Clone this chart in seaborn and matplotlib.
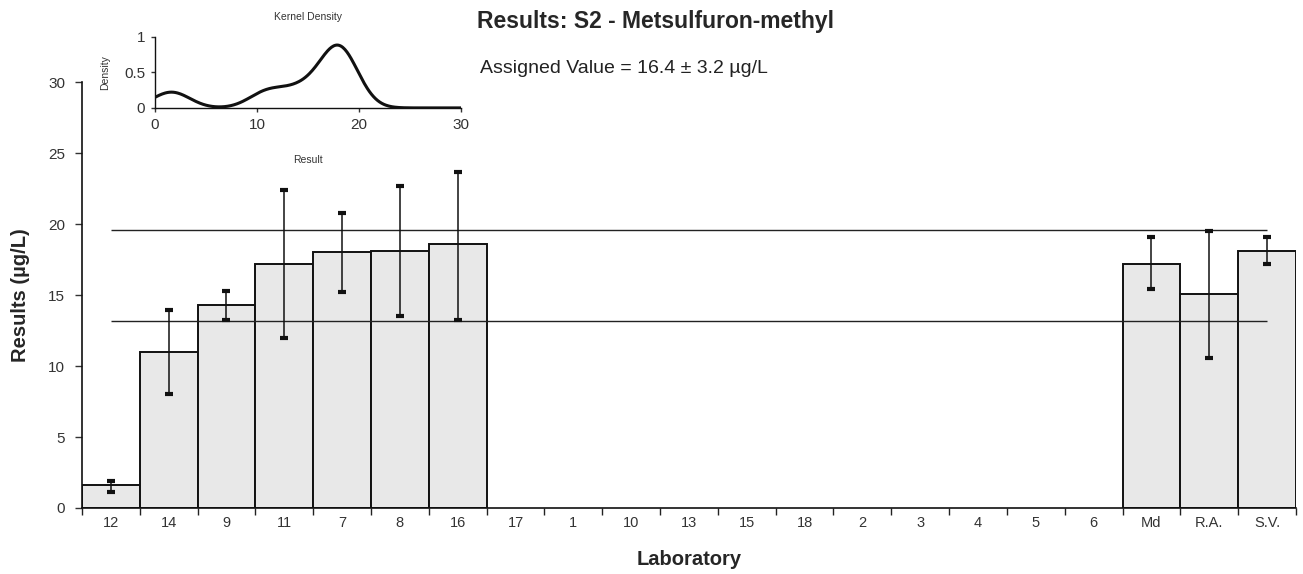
import numpy as np
import pandas as pd
import matplotlib
matplotlib.use("Agg")
import matplotlib.pyplot as plt
import seaborn as sns

# Laboratory order along the x axis
categories = ["12", "14", "9", "11", "7", "8", "16", "17", "1", "10", "13",
              "15", "18", "2", "3", "4", "5", "6", "Md", "R.A.", "S.V."]

# Reported results (µg/L) and their expanded uncertainties
result_labs = ["12", "14", "9", "11", "7", "8", "16", "Md", "R.A.", "S.V."]
result_values = [1.6, 11.0, 14.3, 17.2, 18.0, 18.1, 18.6, 17.2, 15.05, 18.1]
result_upper = [1.9, 13.95, 15.3, 22.4, 20.75, 22.7, 23.7, 19.1, 19.5, 19.1]
result_lower = [1.1, 8.0, 13.25, 12.0, 15.2, 13.5, 13.25, 15.4, 10.6, 17.2]

# Assigned value and its uncertainty
assigned_value = 16.4
assigned_unc = 3.2

# Participant results used for the kernel density
kde_labs = ["12", "14", "9", "11", "7", "8", "16"]
kde_bandwidth = 1.8

sns.set_theme(style="white")
plt.rcParams["font.family"] = ["Liberation Sans", "DejaVu Sans"]

df = pd.DataFrame({"Laboratory": result_labs, "Result": result_values})

fig = plt.figure(figsize=(13.03, 5.74), dpi=100)
ax = fig.add_axes([0.0629, 0.115, 0.9317, 0.742])

sns.barplot(data=df, x="Laboratory", y="Result", order=categories,
            width=1.0, color="#e8e8e8", saturation=1, edgecolor="#111111",
            linewidth=1.4, errorbar=None, ax=ax)

# Uncertainty bars
pos = [categories.index(l) for l in result_labs]
vals = np.array(result_values)
yerr = np.vstack([vals - np.array(result_lower), np.array(result_upper) - vals])
ax.errorbar(pos, vals, yerr=yerr, fmt="none", ecolor="#111111",
            elinewidth=1.1, capsize=2.6, capthick=3, zorder=5)

# Assigned value ± uncertainty limits
ax.hlines([assigned_value + assigned_unc, assigned_value - assigned_unc],
          0, len(categories) - 1, colors="#222222", linewidth=1.0, zorder=4)

ax.set_xlim(-0.5, len(categories) - 0.5)
ax.set_ylim(0, 30)
ax.set_yticks([0, 5, 10, 15, 20, 25, 30])
ax.set_xticks(range(len(categories)))
ax.set_xticklabels(categories)
ax.set_xticks(np.arange(-0.5, len(categories) - 0.4, 1.0), minor=True)
ax.tick_params(axis="x", which="major", length=0, labelsize=10.5, pad=6,
               colors="#333333")
ax.tick_params(axis="x", which="minor", length=5, width=1.0, color="#222222",
               bottom=True, direction="out")
ax.tick_params(axis="y", length=5, width=1.0, left=True, direction="out",
               labelsize=11, colors="#333333", pad=7)
for s in ["top", "right"]:
    ax.spines[s].set_visible(False)
for s in ["left", "bottom"]:
    ax.spines[s].set_color("#111111")
    ax.spines[s].set_linewidth(1.2)

ax.set_xlabel("Laboratory", fontsize=14.5, fontweight="bold", labelpad=14)
ax.set_ylabel("Results (µg/L)", fontsize=14.5, fontweight="bold", labelpad=13)

fig.text(0.5027, 0.9617, "Results: S2 - Metsulfuron-methyl", ha="center",
         va="center", fontsize=16.5, fontweight="bold")
fig.text(0.3685, 0.8815, f"Assigned Value = {assigned_value} ± {assigned_unc} µg/L",
         ha="left", va="center", fontsize=14, color="#222222")

# Kernel density inset
kde_vals = np.array([result_values[result_labs.index(l)] for l in kde_labs])
grid = np.linspace(0, 30, 301)
dens = np.exp(-0.5 * ((grid[:, None] - kde_vals[None, :]) / kde_bandwidth) ** 2)
dens = dens.sum(axis=1) / (kde_bandwidth * np.sqrt(2 * np.pi))
kde_df = pd.DataFrame({"Result": grid, "Density": dens})

ins = fig.add_axes([0.119, 0.812, 0.235, 0.124])
sns.lineplot(data=kde_df, x="Result", y="Density", color="#111111",
             linewidth=2.2, ax=ins)
ins.set_xlim(0, 30)
ins.set_ylim(0, 1)
ins.set_xticks([0, 10, 20, 30])
ins.set_yticks([0, 0.5, 1])
ins.set_yticklabels(["0", "0.5", "1"])
ins.tick_params(axis="both", length=3, width=1.0, direction="out",
                labelsize=11, colors="#333333", pad=4, bottom=True, left=True)
for s in ["top", "right"]:
    ins.spines[s].set_visible(False)
for s in ["left", "bottom"]:
    ins.spines[s].set_color("#111111")
    ins.spines[s].set_linewidth(1.0)
ins.set_title("Kernel Density", fontsize=7.5, color="#333333", pad=12)
ins.set_xlabel("Result", fontsize=7.5, color="#333333", labelpad=17)
ins.set_ylabel("Density", fontsize=7.5, color="#333333", labelpad=10)
ins.patch.set_alpha(0)

fig.savefig("out.png", dpi=100)
